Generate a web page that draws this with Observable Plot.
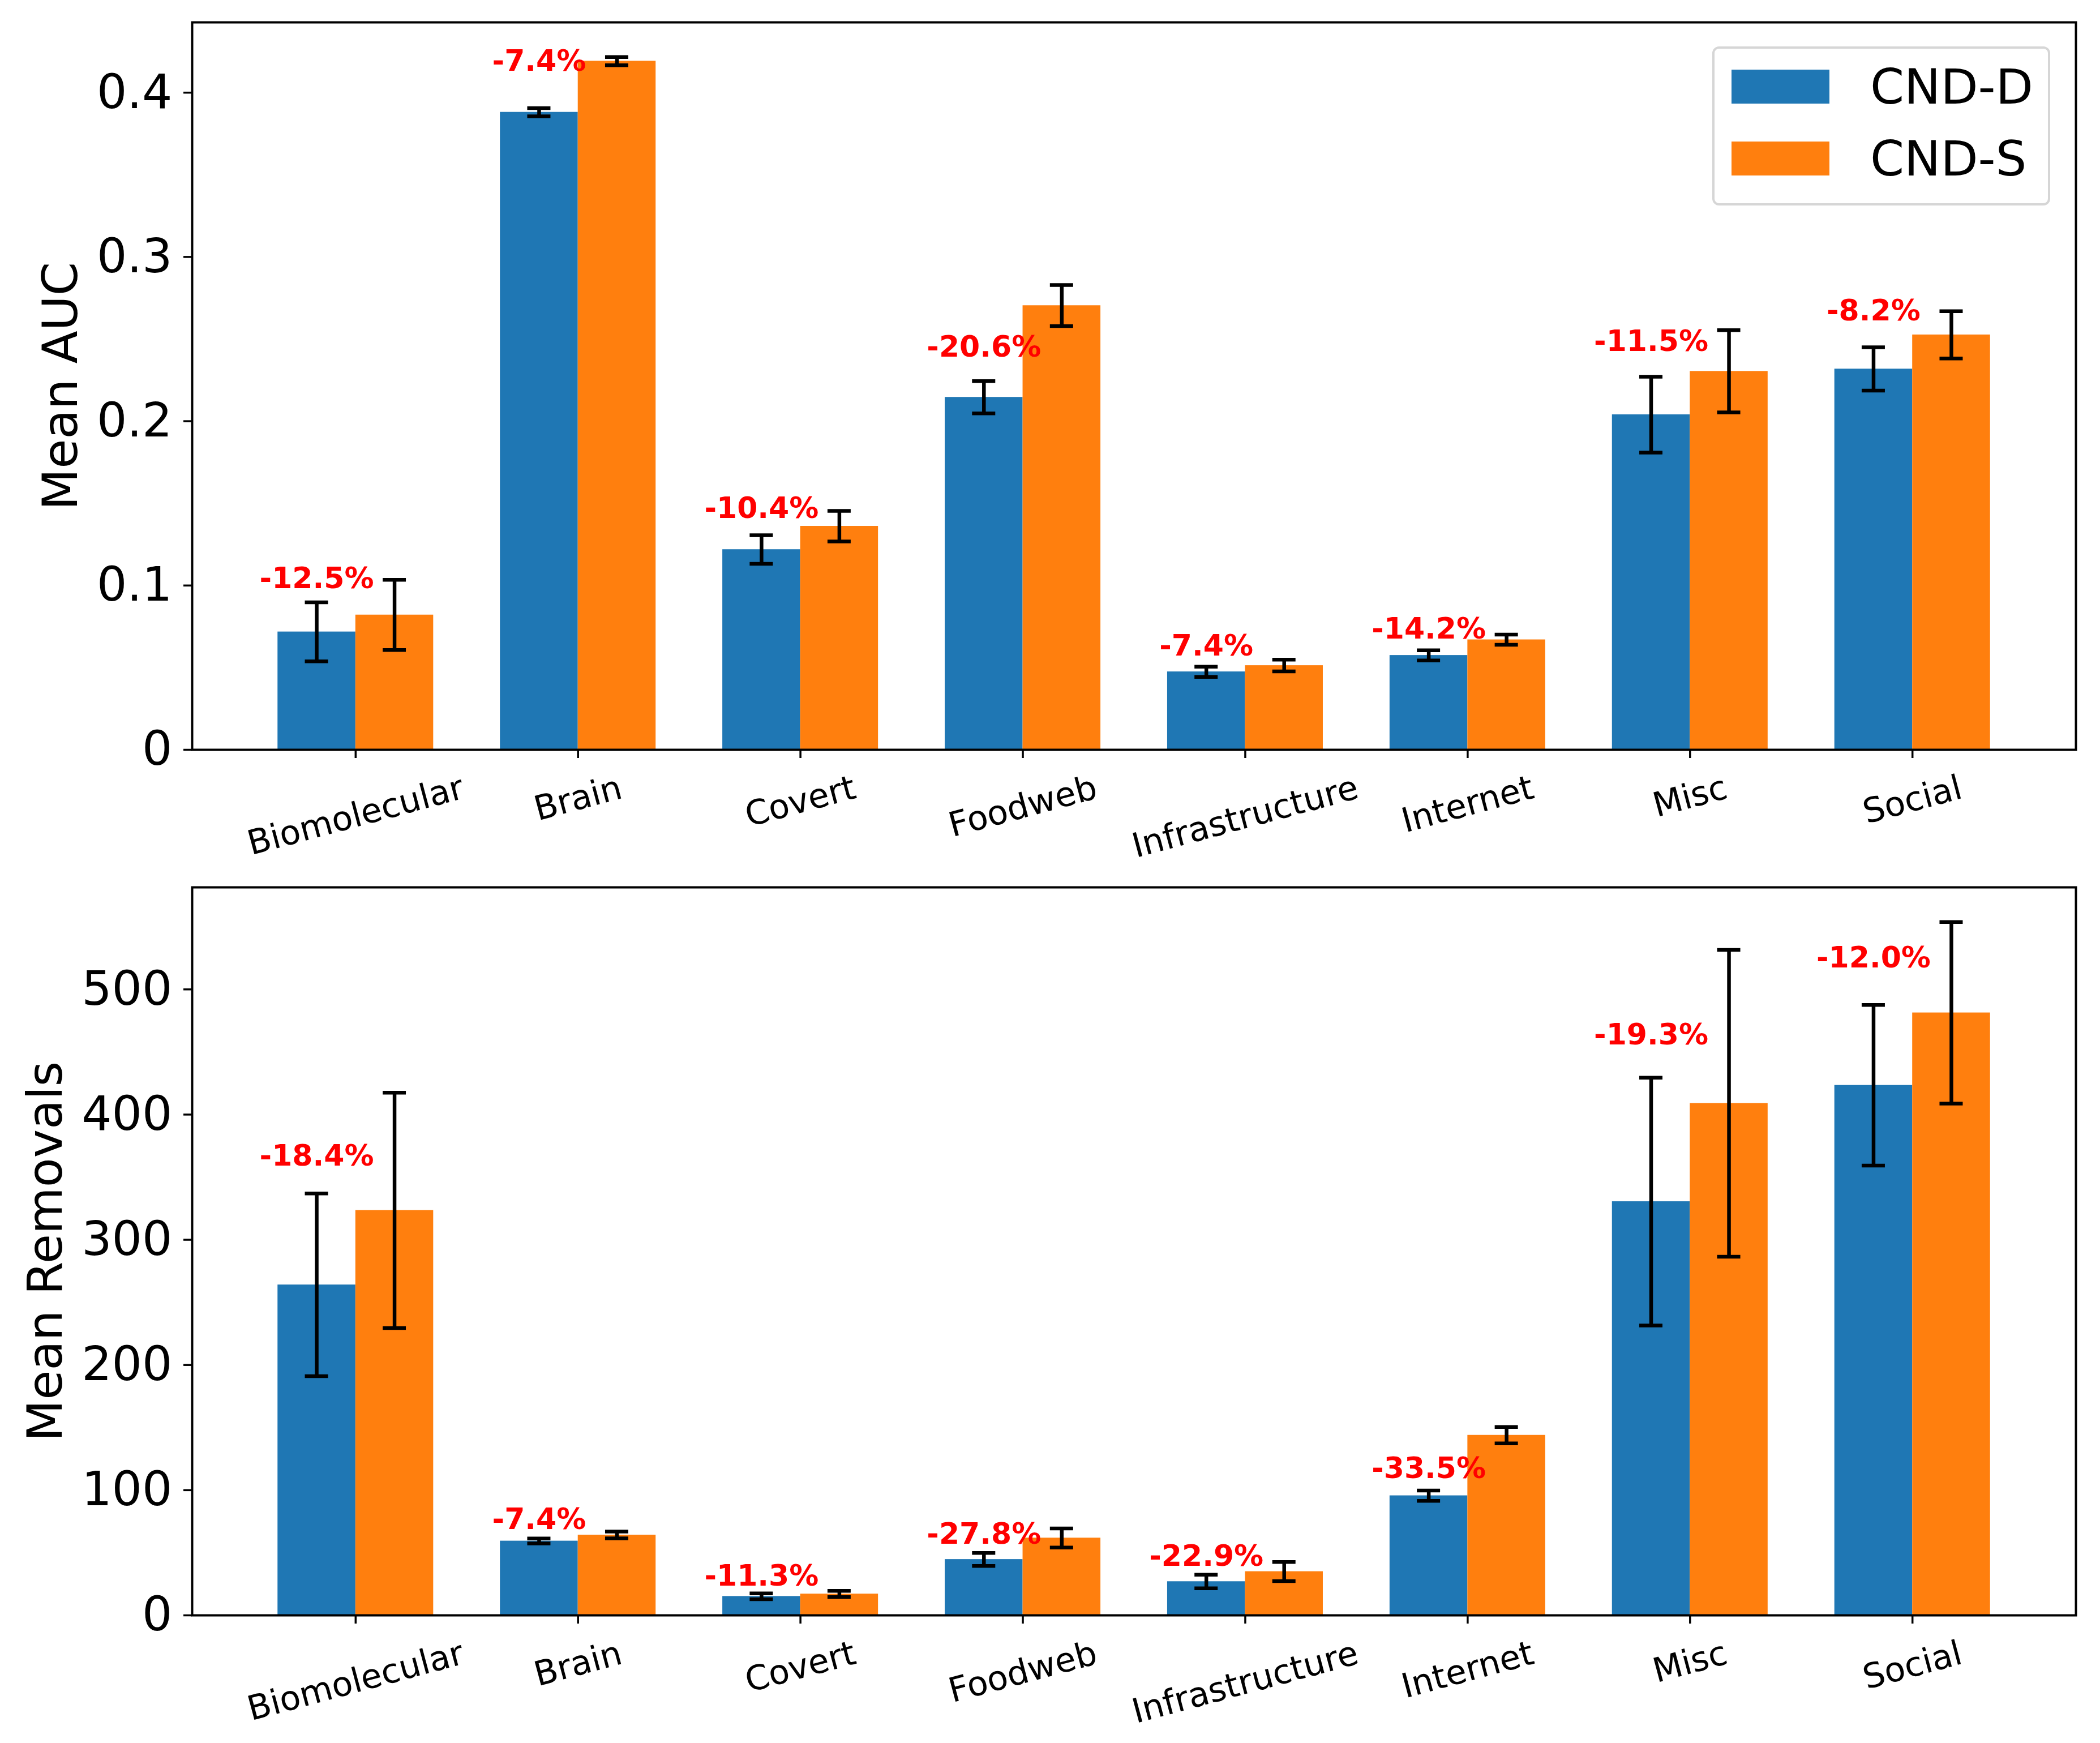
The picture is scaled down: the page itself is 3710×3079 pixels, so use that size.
<!DOCTYPE html>
<html>
<head>
<meta charset="utf-8">
<script src="https://cdn.jsdelivr.net/npm/d3@7"></script>
<script src="https://cdn.jsdelivr.net/npm/@observablehq/plot@0.6"></script>
<style>
  html, body { margin: 0; padding: 0; background: #ffffff; }
  #wrap { position: relative; width: 3710px; height: 3079px; background: #ffffff; font-family: "DejaVu Sans", sans-serif; }
  #wrap svg { display: block; }
  .legend { position: absolute; left: 3025px; top: 82px; width: 597px; height: 281px; box-sizing: border-box;
            border: 4px solid #d6d6d6; border-radius: 12px; background: rgba(255,255,255,0.8); }
  .sw { position: absolute; left: 30px; width: 173px; height: 60px; }
  .lt { position: absolute; left: 275px; font-size: 86px; line-height: 86px; color: #000; white-space: nowrap; }
</style>
</head>
<body>
<div id="wrap"></div>
<script>
// ---------------- data ----------------
const categories = ["Biomolecular", "Brain", "Covert", "Foodweb", "Infrastructure", "Internet", "Misc", "Social"];
const seriesNames = ["CND-D", "CND-S"];
const seriesColors = ["#1f77b4", "#ff7f0e"];

const aucD    = [0.0718, 0.3881, 0.1219, 0.2146, 0.0475, 0.0575, 0.2040, 0.2318];
const aucDErr = [0.0180, 0.0025, 0.0087, 0.0098, 0.0031, 0.0031, 0.0231, 0.0132];
const aucS    = [0.0821, 0.4192, 0.1361, 0.2704, 0.0513, 0.0670, 0.2304, 0.2526];
const aucSErr = [0.0214, 0.0025, 0.0093, 0.0125, 0.0036, 0.0031, 0.0250, 0.0144];
const aucPct  = ["-12.5%", "-7.4%", "-10.4%", "-20.6%", "-7.4%", "-14.2%", "-11.5%", "-8.2%"];
const aucPctY = [0.104, 0.419, 0.147, 0.245, 0.0631, 0.0735, 0.2484, 0.267];
const aucTicks = [0, 0.1, 0.2, 0.3, 0.4];
const aucTickLabels = ["0", "0.1", "0.2", "0.3", "0.4"];

const remD    = [264.0, 59.4, 15.2, 44.7, 27.0, 95.6, 330.5, 423.4];
const remDErr = [73.0, 2.0, 2.3, 5.2, 5.4, 4.1, 99.0, 64.2];
const remS    = [323.5, 64.2, 17.1, 61.8, 35.0, 143.9, 409.0, 481.3];
const remSErr = [94.0, 2.7, 2.5, 7.6, 7.6, 6.6, 122.5, 72.5];
const remPct  = ["-18.4%", "-7.4%", "-11.3%", "-27.8%", "-22.9%", "-33.5%", "-19.3%", "-12.0%"];
const remPctY = [366.6, 76.6, 31.1, 64.9, 47.0, 117.4, 463.5, 524.9];
const remTicks = [0, 100, 200, 300, 400, 500];
const remTickLabels = ["0", "100", "200", "300", "400", "500"];

// ---------------- layout / style ----------------
const W = 3710;
const FONT = "DejaVu Sans";
const barW = 0.35;
const capHalfPx = 20.5;
const xTickFont = 60;
const errWidth = 6.5;

const measureCanvas = document.createElement("canvas");
const mctx = measureCanvas.getContext("2d");
mctx.font = `${xTickFont}px "${FONT}"`;

function panel({D, DE, S, SE, pct, pctY, ticks, tickLabels, ylabel, height, marginTop, marginBottom, ylabelDx}) {
  const marginLeft = 339, marginRight = 43;
  const rows = categories.map((c, i) => ({i, c, d: D[i], de: DE[i], s: S[i], se: SE[i], pct: pct[i], py: pctY[i]}));
  const xmin = -barW, xmax = categories.length - 1 + barW;
  const xpad = (xmax - xmin) * 0.05;
  const xdom = [xmin - xpad, xmax + xpad];
  const ymax = d3.max(rows, r => Math.max(r.d + r.de, r.s + r.se)) * 1.05;
  const pxPerUnit = (W - marginLeft - marginRight) / (xdom[1] - xdom[0]);
  const capHalf = capHalfPx / pxPerUnit;

  const errs = rows.flatMap(r => [
    {x: r.i - barW / 2, lo: r.d - r.de, hi: r.d + r.de},
    {x: r.i + barW / 2, lo: r.s - r.se, hi: r.s + r.se}
  ]);
  const caps = errs.flatMap(e => [{x: e.x, y: e.lo}, {x: e.x, y: e.hi}]);

  const xLabelMarks = categories.map((c, i) => {
    const L = mctx.measureText(c).width;
    return Plot.text([i], {
      x: d => d, text: () => c, frameAnchor: "bottom",
      dy: 66 + 0.1294 * L, rotate: -15, fontSize: xTickFont,
      textAnchor: "middle", lineAnchor: "middle", fill: "black"
    });
  });

  return Plot.plot({
    width: W, height, marginLeft, marginRight, marginTop, marginBottom,
    style: {fontFamily: FONT, background: "white", overflow: "visible"},
    x: {type: "linear", domain: xdom},
    y: {domain: [0, ymax]},
    marks: [
      Plot.rectY(rows, {x1: d => d.i - barW, x2: d => d.i, y: "d", fill: seriesColors[0]}),
      Plot.rectY(rows, {x1: d => d.i, x2: d => d.i + barW, y: "s", fill: seriesColors[1]}),
      Plot.ruleX(errs, {x: "x", y1: "lo", y2: "hi", stroke: "black", strokeWidth: errWidth}),
      Plot.ruleY(caps, {y: "y", x1: d => d.x - capHalf, x2: d => d.x + capHalf, stroke: "black", strokeWidth: errWidth}),
      Plot.frame({stroke: "black", strokeWidth: 4}),
      Plot.axisX({ticks: d3.range(categories.length), tickSize: 15, tickFormat: () => "", label: null, strokeWidth: 3.5}),
      Plot.axisY({ticks, tickSize: 15, tickPadding: 20, fontSize: 84, label: null, strokeWidth: 3.5,
                  tickFormat: (d) => tickLabels[ticks.indexOf(d)], fill: "black"}),
      ...xLabelMarks,
      Plot.text(rows, {x: d => d.i - barW / 2, y: "py", text: "pct", fill: "#ff0000", fontWeight: "bold",
                       fontSize: 52, textAnchor: "middle", lineAnchor: "middle"}),
      Plot.text([ylabel], {frameAnchor: "left", text: d => d, rotate: -90, dx: ylabelDx, fontSize: 85,
                           textAnchor: "middle", lineAnchor: "middle", fill: "black"})
    ]
  });
}

const wrap = document.getElementById("wrap");
const topH = 1545;
const topPlot = panel({D: aucD, DE: aucDErr, S: aucS, SE: aucSErr, pct: aucPct, pctY: aucPctY,
  ticks: aucTicks, tickLabels: aucTickLabels, ylabel: "Mean AUC",
  height: topH, marginTop: 39, marginBottom: topH - 1324, ylabelDx: -231});
const botH = 3079 - topH;
const botPlot = panel({D: remD, DE: remDErr, S: remS, SE: remSErr, pct: remPct, pctY: remPctY,
  ticks: remTicks, tickLabels: remTickLabels, ylabel: "Mean Removals",
  height: botH, marginTop: 1567 - topH, marginBottom: botH - (2853 - topH), ylabelDx: -258});
wrap.appendChild(topPlot);
wrap.appendChild(botPlot);

// legend (inside the top axes, upper right)
const leg = document.createElement("div");
leg.className = "legend";
seriesNames.forEach((name, k) => {
  const sw = document.createElement("div");
  sw.className = "sw";
  sw.style.top = (37 + k * 127) + "px";
  sw.style.background = seriesColors[k];
  leg.appendChild(sw);
  const t = document.createElement("div");
  t.className = "lt";
  t.style.top = (24 + k * 127) + "px";
  t.textContent = name;
  leg.appendChild(t);
});
wrap.appendChild(leg);
</script>
</body>
</html>
